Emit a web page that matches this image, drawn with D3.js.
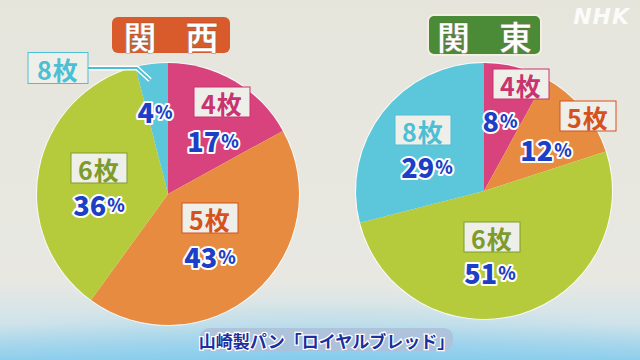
<!DOCTYPE html>
<html><head><meta charset="utf-8">
<script src="https://cdn.jsdelivr.net/npm/d3@7"></script>
<style>html,body{margin:0;padding:0;background:#e8e7df;}svg{display:block;}</style>
</head><body>
<script>
// ---- data ----
const categories = ["4枚", "5枚", "6枚", "8枚"];
const kansaiValues = [17, 43, 36, 4];
const kantoValues = [8, 12, 51, 29];
const regionTitles = ["関西", "関東"];
const caption = "山崎製パン「ロイヤルブレッド」";

// ---- style / layout ----
const W = 640, H = 360;
const sliceColors = ["#d8437d", "#e68b3f", "#b5cb3b", "#5cc6db"];
const labelColors = ["#c9336f", "#d5521d", "#7e9b2b", "#4cbfd5"];
const pctColor = "#1d3fc6";
const FONT = "'Noto Sans CJK JP', 'Noto Sans', sans-serif";

const pies = [
  { title: regionTitles[0], values: kansaiValues, cx: 168, cy: 194, r: 131,
    titleBox: {x: 112, y: 17, w: 118, h: 36}, titleFill: "#d95a2a", titleStroke: "none",
    offs: [[[54, -92], [45, -54]], [[42, 24], [42, 62]], [[-69, -26], [-69, 10]], [null, [-13, -83]]],
    callout: { box: [-110, -126], line: [[-80, -126], [-31, -126], [-18, -114]] } },
  { title: regionTitles[1], values: kantoValues, cx: 484, cy: 191, r: 128,
    titleBox: {x: 428, y: 15, w: 113, h: 40}, titleFill: "#4b8a36", titleStroke: "#f2efe0",
    offs: [[[37, -107], [16, -71]], [[104, -75], [62, -42]], [[8, 46], [6, 81]], [[-61, -61], [-57, -25]]],
    callout: null }
];

const svg = d3.select("body").append("svg").attr("width", W).attr("height", H)
  .style("font-family", FONT);

// background
const defs = svg.append("defs");
const bg = defs.append("linearGradient").attr("id", "bg").attr("x1", 0).attr("y1", 0).attr("x2", 0).attr("y2", 1);
bg.append("stop").attr("offset", "0%").attr("stop-color", "#e6e5dc");
bg.append("stop").attr("offset", "78%").attr("stop-color", "#e8e8e2");
bg.append("stop").attr("offset", "90%").attr("stop-color", "#cfe3ea");
bg.append("stop").attr("offset", "100%").attr("stop-color", "#8ecfec");
svg.append("rect").attr("width", W).attr("height", H).attr("fill", "url(#bg)");
const bg2 = defs.append("radialGradient").attr("id", "bg2").attr("cx", "50%").attr("cy", "100%").attr("r", "60%");
bg2.append("stop").attr("offset", "0%").attr("stop-color", "#7cc8ee").attr("stop-opacity", 0.5);
bg2.append("stop").attr("offset", "100%").attr("stop-color", "#7cc8ee").attr("stop-opacity", 0);
svg.append("rect").attr("y", 260).attr("width", W).attr("height", 100).attr("fill", "url(#bg2)");

const pie = d3.pie().sort(null).value(d => d);

function pctText(g, x, y, v, size) {
  const t = g.append("text").attr("x", x).attr("y", y).attr("text-anchor", "middle")
    .attr("dominant-baseline", "central").attr("font-weight", 900)
    .attr("fill", pctColor).attr("stroke", "#ffffff").attr("stroke-width", 4)
    .attr("paint-order", "stroke").attr("stroke-linejoin", "round");
  t.append("tspan").attr("font-size", size).text(v);
  t.append("tspan").attr("font-size", size * 0.66).attr("dx", 1).text("%");
}

function catLabel(g, x, y, text, color, w, h) {
  g.append("rect").attr("x", x - w / 2).attr("y", y - h / 2).attr("width", w).attr("height", h)
    .attr("fill", "#efefea").attr("stroke", color).attr("stroke-width", 1);
  g.append("text").attr("x", x).attr("y", y + 1).attr("text-anchor", "middle")
    .attr("dominant-baseline", "central").attr("font-size", 25).attr("font-weight", 700)
    .attr("fill", color).attr("letter-spacing", 1).text(text);
}

pies.forEach(p => {
  const g = svg.append("g");
  const arcs = pie(p.values);
  const arc = d3.arc().innerRadius(0).outerRadius(p.r);
  const pg = g.append("g").attr("transform", `translate(${p.cx},${p.cy})`);
  pg.append("circle").attr("r", p.r + 1).attr("fill", "#ffffff").attr("opacity", 0.8);
  pg.selectAll("path").data(arcs).join("path")
    .attr("d", arc).attr("fill", (d, i) => sliceColors[i]);

  // title
  const tb = p.titleBox;
  g.append("rect").attr("x", tb.x).attr("y", tb.y).attr("width", tb.w).attr("height", tb.h)
    .attr("rx", 6).attr("fill", p.titleFill)
    .attr("stroke", p.titleStroke).attr("stroke-width", 2);
  const chars = Array.from(p.title);
  chars.forEach((ch, k) => {
    g.append("text").attr("x", tb.x + tb.w / 2 + (k - (chars.length - 1) / 2) * 62)
      .attr("y", tb.y + tb.h / 2 + 1)
      .attr("text-anchor", "middle").attr("dominant-baseline", "central")
      .attr("font-size", 33).attr("font-weight", 700).attr("fill", "#ffffff")
      .attr("stroke", "#5a3a2a").attr("stroke-width", 0.6).attr("stroke-opacity", 0.5)
      .text(ch);
  });

  // labels
  arcs.forEach((a, i) => {
    const o = p.offs[i];
    if (o[0]) catLabel(g, p.cx + o[0][0], p.cy + o[0][1], categories[i], labelColors[i], 56, 30);
    pctText(g, p.cx + o[1][0], p.cy + o[1][1], a.data, 27);
  });

  // callout for tiny slice
  if (p.callout) {
    const c = p.callout;
    const pts = c.line.map(q => [p.cx + q[0], p.cy + q[1]]);
    const line = d3.line();
    g.append("path").attr("d", line(pts)).attr("fill", "none")
      .attr("stroke", "#ffffff").attr("stroke-width", 5).attr("stroke-linejoin", "round");
    g.append("path").attr("d", line(pts)).attr("fill", "none")
      .attr("stroke", labelColors[3]).attr("stroke-width", 2).attr("stroke-linejoin", "round");
    catLabel(g, p.cx + c.box[0], p.cy + c.box[1], categories[3], labelColors[3], 60, 31);
  }
});

// caption
svg.append("rect").attr("x", 200).attr("y", 328).attr("width", 253).attr("height", 23)
  .attr("rx", 9).attr("fill", "#aebfd8").attr("opacity", 0.85);
svg.append("text").attr("x", 326.5).attr("y", 340).attr("text-anchor", "middle")
  .attr("dominant-baseline", "central").attr("font-size", 17).attr("font-weight", 700)
  .attr("fill", "#1b2f9e").attr("stroke", "#ffffff").attr("stroke-width", 2.5)
  .attr("paint-order", "stroke").text(caption);

// NHK logo
svg.append("text").attr("x", 630).attr("y", 16).attr("text-anchor", "end")
  .attr("dominant-baseline", "central").attr("font-family", "'DejaVu Sans', sans-serif")
  .attr("font-size", 22).attr("font-weight", 700).attr("font-style", "italic")
  .attr("fill", "#ffffff").attr("opacity", 0.85).attr("letter-spacing", 1).text("NHK");
</script>
</body></html>
